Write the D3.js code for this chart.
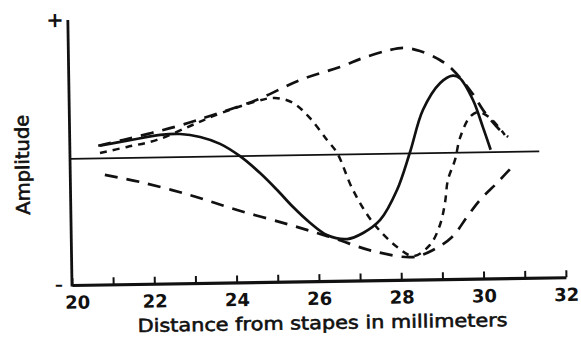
<!DOCTYPE html>
<html>
<head>
<meta charset="utf-8">
<script src="https://cdn.jsdelivr.net/npm/d3@7"></script>
<style>
    body { margin: 0; background: #fff; }
    text { font-family: "DejaVu Sans", "Liberation Sans", Arial, sans-serif; fill: #111; }
</style>
</head>
<body>
<div id="chart"></div>
<script>
// x axis: ticks every mm, labels on even values
var xTicks = d3.range(20, 33);
var xLabels = [20, 22, 24, 26, 28, 30, 32];

// wave at one instant (solid)
var waveA = [
    [20.73, 0.10], [21.46, 0.14], [22.20, 0.178], [22.68, 0.183], [23.17, 0.157],
    [23.65, 0.10], [24.13, 0.0], [24.61, -0.136], [25.02, -0.273], [25.40, -0.41],
    [25.81, -0.538], [26.21, -0.635], [26.70, -0.67], [27.09, -0.624], [27.51, -0.523],
    [27.93, -0.288], [28.26, 0.01], [28.59, 0.343], [29.02, 0.555], [29.33, 0.612],
    [29.50, 0.59], [29.81, 0.416], [30.04, 0.20], [30.22, 0.02]
];

// wave a quarter period later (short dashes)
var waveB = [
    [20.73, 0.043], [21.39, 0.087], [22.12, 0.139], [22.93, 0.245], [23.49, 0.32],
    [24.52, 0.43], [25.0, 0.457], [25.44, 0.415], [25.84, 0.294], [26.25, 0.117],
    [26.49, 0.013], [26.86, -0.282], [27.34, -0.546], [27.91, -0.739], [28.30, -0.813],
    [28.71, -0.727], [28.96, -0.57], [29.09, -0.397], [29.17, -0.215], [29.35, -0.057],
    [29.48, 0.117], [29.73, 0.282], [29.93, 0.32], [30.22, 0.271], [30.57, 0.135]
];

// envelope (long dashes)
var envUpper = [
    [20.69, 0.10], [21.29, 0.143], [21.99, 0.195], [22.73, 0.255], [23.49, 0.33],
    [24.55, 0.443], [25.62, 0.596], [26.59, 0.694], [27.16, 0.763], [27.81, 0.823],
    [28.18, 0.837], [28.54, 0.811], [29.02, 0.737], [29.31, 0.665], [29.79, 0.472],
    [30.10, 0.312], [30.45, 0.175], [30.65, 0.119]
];
var envLower = [
    [20.84, -0.132], [21.69, -0.192], [22.90, -0.302], [24.04, -0.426], [25.32, -0.551],
    [26.36, -0.66], [27.32, -0.768], [28.29, -0.821], [28.78, -0.768], [29.25, -0.667],
    [29.62, -0.51], [29.94, -0.377], [30.36, -0.245], [30.73, -0.12]
];

var zeroLineEnd = 31.4;

var width = 581, height = 338;

var svg = d3.select("#chart").append("svg")
    .attr("width", width)
    .attr("height", height);

var x = d3.scaleLinear().domain([20, 32]).range([72, 566]);
var y = d3.scaleLinear().domain([-1, 1.1]).range([285, 20]);

// the scanned figure sits slightly tilted
var g = svg.append("g")
    .attr("transform", "rotate(-0.9," + x(20) + "," + y(-1) + ")");

// baseline through zero
g.append("line")
    .attr("x1", x(20)).attr("x2", x(zeroLineEnd))
    .attr("y1", y(0)).attr("y2", y(0))
    .attr("stroke", "#111")
    .attr("stroke-width", 1.8);

var line = d3.line()
    .x(function (d) { return x(d[0]); })
    .y(function (d) { return y(d[1]); })
    .curve(d3.curveCatmullRom.alpha(0.5));

function drawCurve(data, dash, w) {
    g.append("path")
        .datum(data)
        .attr("d", line)
        .attr("fill", "none")
        .attr("stroke", "#111")
        .attr("stroke-width", w)
        .attr("stroke-dasharray", dash)
        .attr("stroke-linecap", "butt");
}

drawCurve(envUpper, "13,9", 2.7);
drawCurve(envLower, "13,9", 2.7);
drawCurve(waveB, "7,6", 2.5);
drawCurve(waveA, null, 2.7);

// x axis, ticks pointing up
var xAxis = d3.axisBottom(x)
    .tickValues(xTicks)
    .tickSizeInner(-7)
    .tickSizeOuter(0)
    .tickPadding(11)
    .tickFormat(function (d) { return xLabels.indexOf(d) >= 0 ? d : ""; });

var gX = g.append("g")
    .attr("transform", "translate(0," + y(-1) + ")")
    .call(xAxis);
gX.select(".domain").attr("stroke", "#111").attr("stroke-width", 3.2);
gX.selectAll(".tick line").attr("stroke", "#111").attr("stroke-width", 2);
gX.selectAll(".tick text")
    .attr("font-size", 18)
    .attr("font-weight", "bold")
    .attr("fill", "#111")
    .attr("dx", function (d) { return d === 20 ? 5 : 0; });

// y axis
g.append("line")
    .attr("x1", x(20)).attr("x2", x(20))
    .attr("y1", y(1.1)).attr("y2", y(-1) + 1.5)
    .attr("stroke", "#111")
    .attr("stroke-width", 2.8);

g.append("text")
    .attr("x", x(20) - 13).attr("y", y(1.1) + 7)
    .attr("text-anchor", "middle")
    .attr("font-size", 21)
    .attr("font-weight", "bold")
    .text("+");

g.append("text")
    .attr("x", x(20) - 13).attr("y", y(-1) + 5)
    .attr("text-anchor", "middle")
    .attr("font-size", 16)
    .attr("font-weight", "bold")
    .text("–");

// axis titles
g.append("text")
    .attr("x", (x(20) + x(32)) / 2 + 3)
    .attr("y", 333)
    .attr("text-anchor", "middle")
    .attr("font-size", 18)
    .attr("stroke", "#111")
    .attr("stroke-width", 0.6)
    .attr("textLength", 370)
    .attr("lengthAdjust", "spacingAndGlyphs")
    .text("Distance from stapes in millimeters");

g.append("text")
    .attr("transform", "translate(31,164) rotate(-90)")
    .attr("text-anchor", "middle")
    .attr("font-size", 19)
    .attr("stroke", "#111")
    .attr("stroke-width", 0.6)
    .attr("textLength", 100)
    .attr("lengthAdjust", "spacingAndGlyphs")
    .text("Amplitude");
</script>
</body>
</html>
